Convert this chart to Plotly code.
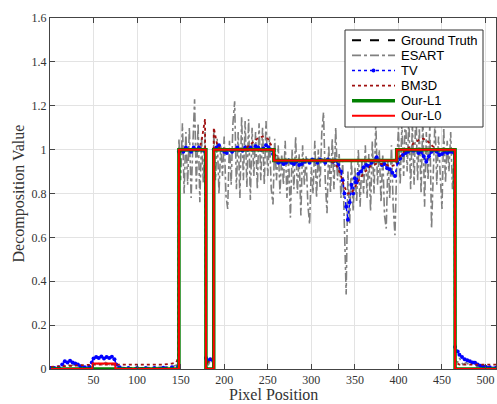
import plotly.graph_objects as go

# -------------------------
# DATA
# -------------------------
# piecewise-constant signals, drawn as steps
gt_x = [1, 148, 179, 188, 257, 398, 465, 512]
gt_y = [0, 1, 0, 1, 0.95, 1, 0, 0]

l1_x = [1, 148, 179, 188, 257, 398, 465, 512]
l1_y = [0, 1, 0, 1, 0.95, 1, 0, 0]

l0_x = [1, 49, 75, 148, 179, 188, 257, 398, 465, 512]
l0_y = [0, 0.025, 0, 1, 0, 1, 0.95, 1, 0, 0]

# ESART: noisy reconstruction
esart_x = [1, 10, 16, 20, 24, 28, 32, 40, 48, 52, 56, 60, 64, 68, 72, 76, 84, 100, 120, 140, 147,
           148, 150, 152, 154, 156, 158, 160, 162, 164, 166, 168, 170, 172, 174, 176, 178,
           179, 182, 184, 187,
           188, 190, 192, 194, 196, 198, 200, 202, 204, 206, 208, 210, 212, 214, 216, 218, 220, 222,
           224, 226, 228, 230, 232, 234, 236, 238, 240, 242, 244, 246, 248, 250, 252, 254, 256,
           258, 260, 262, 264, 266, 268, 270, 272, 274, 276, 278, 280, 282, 284, 286, 288, 290, 292,
           294, 296, 298, 300, 302, 304, 306, 308, 310, 312, 314, 316, 318, 320, 322, 324, 326, 328,
           330, 332, 334, 336, 338, 340,
           342, 344, 346, 348, 350, 352, 354, 356, 358, 360, 362, 364, 366, 368, 370, 372, 374, 376,
           378, 380, 382, 384, 386, 388, 390, 392, 394, 396, 398,
           400, 402, 404, 406, 408, 410, 412, 414, 416, 418, 420, 422, 424, 426, 428, 430, 432, 434,
           436, 438, 440, 442, 444, 446, 448, 450, 452, 454, 456, 458, 460, 462, 464,
           465, 468, 470, 474, 478, 482, 486, 490, 496, 502, 512]
esart_y = [0.0, 0.005, 0.015, 0.02, 0.015, 0.02, 0.01, 0.005, 0.01, 0.02, 0.025, 0.02, 0.03, 0.02, 0.025, 0.01, 0.005, 0.005, 0.005, 0.01, 0.02,
           1.05, 0.86, 1.12, 0.80, 1.08, 0.84, 1.10, 0.78, 1.02, 1.23, 0.82, 1.12, 0.76, 1.06, 0.85, 1.08,
           0.03, 0.02, 0.04, 0.03,
           1.09, 0.86, 1.05, 0.80, 1.02, 0.88, 1.06, 0.79, 0.73, 1.04, 0.84, 1.12, 1.22, 0.82, 1.08, 0.78, 1.15, 0.86,
           1.13, 0.83, 1.14, 0.77, 1.10, 0.88, 1.08, 0.82, 1.12, 0.86, 1.10, 0.84, 1.13, 0.88, 1.06, 0.82, 0.75,
           1.05, 0.86, 1.02, 0.80, 0.98, 0.84, 1.04, 0.78, 0.96, 0.69, 1.00, 0.82, 1.06, 0.80, 0.98, 0.70, 1.02, 0.84,
           0.97, 0.75, 0.66, 0.92, 0.80, 1.04, 0.78, 1.00, 0.83, 1.08, 1.17, 0.86, 0.71, 1.02, 0.80, 1.05, 0.82, 1.10,
           0.86, 0.98, 0.78, 0.95, 0.62, 0.34,
           0.90, 0.66, 0.96, 0.72, 0.92, 0.76, 1.00, 0.74, 0.95, 0.80, 1.02, 0.78, 0.98, 0.72, 1.04, 0.80, 1.13, 0.84,
           1.00, 0.76, 0.98, 0.70, 0.64, 0.96, 0.78, 1.02, 0.74, 0.61, 0.92,
           1.10, 0.84, 1.12, 0.88, 1.18, 0.90, 1.15, 0.82, 1.12, 0.84, 1.20, 0.86, 1.10, 0.80, 1.16, 0.74, 1.08, 0.86,
           1.12, 0.64, 0.92, 1.14, 0.84, 1.06, 0.88, 0.73, 1.10, 0.85, 1.04, 0.90, 1.08, 0.82, 1.00,
           0.04, 0.03, 0.05, 0.02, 0.03, 0.015, 0.04, 0.01, 0.015, 0.005, 0.0]

# TV
tv_x = [1, 5, 10, 14, 17, 20, 23, 26, 29, 32, 35, 40, 45, 48, 50, 53, 56, 59, 62, 65, 68, 71, 74, 76,
        80, 90, 100, 110, 120, 130, 140, 147,
        148, 150, 153, 156, 159, 162, 165, 168, 171, 174, 178,
        179, 181, 184, 187,
        188, 191, 194, 197, 200, 203, 206, 209, 212, 215, 218, 221, 224, 227, 230, 233, 236, 239,
        242, 245, 248, 251, 254, 256,
        259, 262, 265, 268, 271, 274, 277, 280, 283, 286, 289, 292, 295, 298, 301, 304, 307, 310,
        313, 316, 319, 322, 325, 328, 331, 334, 336, 338, 340, 342, 344, 346, 348, 350, 352, 354,
        357, 360, 363, 366, 369, 372, 375, 378, 381, 384, 387, 390, 393, 396,
        399, 402, 405, 408, 411, 414, 417, 420, 423, 426, 429, 432, 435, 438, 441, 444, 447, 450,
        453, 456, 459, 462, 464,
        465, 468, 470, 473, 476, 479, 482, 485, 488, 491, 494, 497, 500, 505, 512]
tv_y = [0.005, 0.005, 0.008, 0.02, 0.035, 0.03, 0.038, 0.03, 0.025, 0.02, 0.012, 0.008, 0.01, 0.03, 0.048,
        0.055, 0.05, 0.057, 0.048, 0.055, 0.05, 0.056, 0.045, 0.02,
        0.008, 0.005, 0.005, 0.005, 0.005, 0.006, 0.008, 0.01,
        0.99, 1.0, 0.99, 1.01, 1.0, 0.99, 1.01, 1.0, 1.01, 1.0, 0.99,
        0.05, 0.04, 0.045, 0.04,
        1.0, 1.01, 1.02, 1.0, 0.99, 0.985, 1.0, 0.99, 1.0, 1.01, 1.0, 0.995, 1.01, 1.0, 1.01, 1.0, 1.015, 1.01,
        1.0, 1.005, 1.02, 1.01, 1.0, 0.98,
        0.95, 0.94, 0.945, 0.935, 0.94, 0.95, 0.94, 0.935, 0.945, 0.93, 0.935, 0.945, 0.95, 0.94, 0.955, 0.95,
        0.94, 0.955, 0.95, 0.94, 0.955, 0.95, 0.945, 0.95, 0.93, 0.9, 0.86, 0.8, 0.74, 0.68, 0.76, 0.84, 0.8,
        0.87, 0.85, 0.89,
        0.9, 0.92, 0.93, 0.925, 0.94, 0.95, 0.965, 0.95, 0.93, 0.935, 0.915, 0.91, 0.895, 0.88,
        0.94, 0.96, 0.975, 0.985, 0.99, 1.0, 0.995, 1.0, 0.985, 0.99, 0.97, 0.945, 0.97, 0.99, 1.0, 0.99,
        0.975, 0.98, 0.99, 0.985, 0.99, 0.99, 0.985,
        0.1, 0.08, 0.065, 0.055, 0.045, 0.04, 0.035, 0.03, 0.028, 0.02, 0.015, 0.012, 0.01, 0.008, 0.006]

# BM3D
bm3d_x = [1, 10, 20, 30, 40, 50, 60, 70, 80, 90, 100, 110, 120, 130, 140, 145, 147,
          148, 152, 160, 168, 172, 174, 176, 178,
          179, 181, 184, 187,
          188, 190, 192, 196, 200, 210, 220, 226, 232, 238, 244, 250, 254, 258, 262,
          270, 280, 290, 300, 310, 320, 326, 330, 334, 338, 342, 346, 350, 356, 362, 368,
          374, 380, 386, 392, 396, 400, 406, 412, 418, 424, 428, 432, 438, 444, 450, 458, 464,
          465, 470, 480, 490, 500, 512]
bm3d_y = [0.01, 0.012, 0.015, 0.018, 0.02, 0.02, 0.02, 0.02, 0.018, 0.018, 0.018, 0.018, 0.018, 0.02,
          0.025, 0.03, 0.05,
          0.98, 1.0, 1.0, 1.0, 1.01, 1.04, 1.09, 1.14,
          0.05, 0.03, 0.04, 0.05,
          1.10, 1.05, 1.02, 1.0, 0.995, 1.0, 1.0, 1.01, 1.03, 1.05, 1.06, 1.05, 1.02, 0.98, 0.955,
          0.95, 0.95, 0.95, 0.95, 0.95, 0.95, 0.94, 0.92, 0.88, 0.83, 0.80, 0.80, 0.83, 0.87, 0.90, 0.925,
          0.935, 0.935, 0.93, 0.925, 0.93, 0.96, 0.99, 1.01, 1.03, 1.045, 1.05, 1.045, 1.02, 1.0, 0.995,
          1.0, 1.0,
          0.03, 0.02, 0.02, 0.02, 0.02, 0.02]

x_ticks = [50, 100, 150, 200, 250, 300, 350, 400, 450, 500]
y_ticks = [0, 0.2, 0.4, 0.6, 0.8, 1, 1.2, 1.4, 1.6]
y_labels = ["0", "0.2", "0.4", "0.6", "0.8", "1", "1.2", "1.4", "1.6"]

# -------------------------
# STYLES
# -------------------------
STYLES = {
    "Ground Truth": dict(color="black", width=2, dash="dash"),
    "ESART": dict(color="#808080", width=1.6, dash="dashdot"),
    "TV": dict(color="#0000ff", width=1.5, dash="dot"),
    "BM3D": dict(color="#a01010", width=1.8, dash="dot"),
    "Our-L1": dict(color="#008000", width=3.5, dash="solid"),
    "Our-L0": dict(color="#ff0000", width=2, dash="solid"),
}

# -------------------------
# FIGURE
# -------------------------
fig = go.Figure()

fig.add_trace(go.Scatter(x=gt_x, y=gt_y, name="Ground Truth", mode="lines",
                         line_shape="hv", line=STYLES["Ground Truth"]))
fig.add_trace(go.Scatter(x=esart_x, y=esart_y, name="ESART", mode="lines",
                         line=STYLES["ESART"]))
fig.add_trace(go.Scatter(x=tv_x, y=tv_y, name="TV", mode="lines+markers",
                         line=STYLES["TV"], marker=dict(color="#0000ff", size=4)))
fig.add_trace(go.Scatter(x=bm3d_x, y=bm3d_y, name="BM3D", mode="lines",
                         line=STYLES["BM3D"]))
fig.add_trace(go.Scatter(x=l1_x, y=l1_y, name="Our-L1", mode="lines",
                         line_shape="hv", line=STYLES["Our-L1"]))
fig.add_trace(go.Scatter(x=l0_x, y=l0_y, name="Our-L0", mode="lines",
                         line_shape="hv", line=STYLES["Our-L0"]))

# -------------------------
# HAND-MADE LEGEND (MATLAB-style compact box)
# plot area: x 50..496 px, y 18..369 px
# -------------------------
def px(xp):
    return (xp - 50) / 446.0


def py(yp):
    return (369 - yp) / 351.0


shapes = [dict(type="rect", xref="paper", yref="paper",
               x0=px(345), x1=px(483), y0=py(127), y1=py(30),
               fillcolor="white", line=dict(color="#333333", width=1))]
annotations = []
for i, name in enumerate(STYLES):
    yc = 40.3 + i * 15.1
    shapes.append(dict(type="line", xref="paper", yref="paper",
                       x0=px(352), x1=px(395), y0=py(yc), y1=py(yc),
                       line=STYLES[name]))
    annotations.append(dict(text=name, xref="paper", yref="paper",
                            x=px(399), y=py(yc), xanchor="left", yanchor="middle",
                            showarrow=False,
                            font=dict(family="Liberation Sans", size=13, color="black")))
    if name == "TV":
        shapes.append(dict(type="circle", xref="paper", yref="paper",
                           x0=px(371.5), x1=px(375.5), y0=py(yc + 2), y1=py(yc - 2),
                           fillcolor="#0000ff", line=dict(color="#0000ff", width=0)))

annotations += [
    dict(text="Pixel Position", xref="paper", yref="paper", x=0.5, y=py(394),
         xanchor="center", yanchor="middle", showarrow=False,
         font=dict(family="Liberation Serif", size=16, color="#333333")),
    dict(text="Decomposition Value", xref="paper", yref="paper", x=px(18), y=0.5,
         xanchor="center", yanchor="middle", showarrow=False, textangle=-90,
         font=dict(family="Liberation Serif", size=16, color="#333333")),
]

# -------------------------
# LAYOUT
# -------------------------
axis_common = dict(
    showline=True, linecolor="#444444", linewidth=1, mirror="ticks",
    ticks="inside", ticklen=5, tickcolor="#444444",
    showgrid=True, gridcolor="#e3e3e3", gridwidth=1, zeroline=False,
    tickfont=dict(family="Liberation Serif", size=12, color="#333333"),
    automargin=False,
)

fig.update_layout(
    width=497, height=404,
    paper_bgcolor="white", plot_bgcolor="white",
    margin=dict(l=50, r=1, t=18, b=35),
    font=dict(family="Liberation Serif", color="#333333"),
    showlegend=False,
    xaxis=dict(range=[0, 512], tickvals=x_ticks, **axis_common),
    yaxis=dict(range=[0, 1.6], tickvals=y_ticks, ticktext=y_labels, **axis_common),
    shapes=shapes,
    annotations=annotations,
)

# drop the default page margin so the figure sits at the window's corner
fig.write_html(
    "out.html",
    config={"displayModeBar": False},
    post_script="document.body.style.margin='0';document.body.style.overflow='hidden';",
)
